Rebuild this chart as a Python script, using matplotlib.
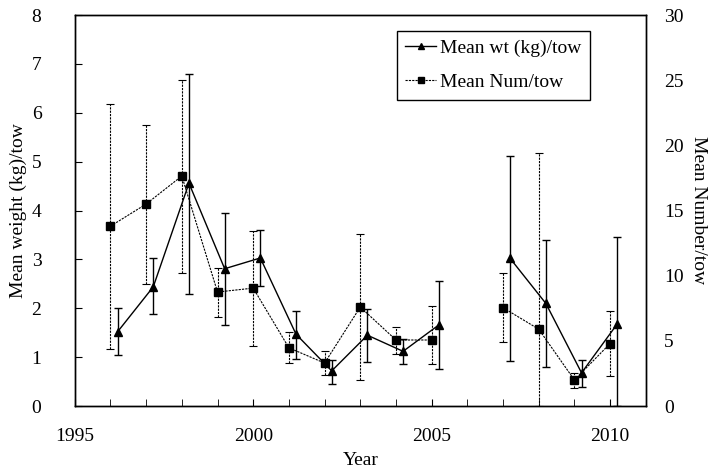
import numpy as np
import matplotlib
matplotlib.use('Agg')
import matplotlib.pyplot as plt
from matplotlib.ticker import MultipleLocator

plt.rcParams['font.family'] = ['Liberation Serif', 'DejaVu Serif']
plt.rcParams['font.size'] = 14

years = [1996, 1997, 1998, 1999, 2000, 2001, 2002, 2003, 2004, 2005, 2006,
         2007, 2008, 2009, 2010]

# mean weight (kg)/tow, left axis (NaN = no survey)
wt = [1.52, 2.44, 4.56, 2.81, 3.03, 1.47, 0.72, 1.45, 1.12, 1.66, np.nan,
      3.02, 2.10, 0.68, 1.68]
wt_hi = [2.00, 3.02, 6.80, 3.95, 3.61, 1.94, 0.95, 1.98, 1.38, 2.56, np.nan,
         5.12, 3.40, 0.94, 3.46]
wt_lo = [1.04, 1.88, 2.29, 1.66, 2.46, 0.96, 0.46, 0.90, 0.87, 0.76, np.nan,
         0.93, 0.80, 0.40, 0.00]

# mean number/tow, right axis
num = [13.8, 15.5, 17.65, 8.75, 9.05, 4.47, 3.3, 7.6, 5.07, 5.07, np.nan,
       7.55, 5.9, 2.0, 4.8]
num_hi = [23.2, 21.6, 25.0, 10.6, 13.4, 5.7, 4.2, 13.2, 6.1, 7.7, np.nan,
          10.2, 19.4, 2.5, 7.3]
num_lo = [4.4, 9.4, 10.2, 6.8, 4.6, 3.3, 2.35, 1.97, 4.0, 3.2, np.nan,
          4.9, 0.0, 1.4, 2.3]

yr = np.array(years, dtype=float)
wt = np.array(wt)
num = np.array(num)
wt_err = [wt - np.array(wt_lo), np.array(wt_hi) - wt]
num_err = [num - np.array(num_lo), np.array(num_hi) - num]

fig = plt.figure(figsize=(7.12, 4.70), dpi=100)
ax = fig.add_axes([0.105, 0.136, 0.802, 0.832])
ax2 = ax.twinx()

# weight: triangles, solid, shifted a little right
lw, = ax.plot(yr + 0.2, wt, color='black', lw=1.0, marker='^', ms=6,
              label='Mean wt (kg)/tow')
ax.errorbar(yr + 0.2, wt, yerr=wt_err, fmt='none', ecolor='black',
            elinewidth=1.0, capsize=3, capthick=1.0)

# number: squares, dotted
ln, = ax2.plot(yr, num, color='black', lw=0.8, ls=(0, (2, 1)), marker='s',
               ms=6, label='Mean Num/tow')
eb = ax2.errorbar(yr, num, yerr=num_err, fmt='none', ecolor='black',
                  elinewidth=0.8, capsize=3, capthick=0.8)
for c in eb[2]:
    c.set_linestyle((0, (2, 1)))

ax.set_xlim(1995, 2011)
ax.set_ylim(0, 8)
ax2.set_ylim(0, 30)
ax.xaxis.set_major_locator(MultipleLocator(5))
ax.xaxis.set_minor_locator(MultipleLocator(1))
ax.yaxis.set_major_locator(MultipleLocator(1))
ax2.yaxis.set_major_locator(MultipleLocator(5))

ax.tick_params(axis='x', which='both', direction='in', length=5, pad=16)
ax.tick_params(axis='y', direction='in', length=5, pad=24)
ax2.tick_params(axis='y', length=0, pad=13)

for a in (ax, ax2):
    for s in a.spines.values():
        s.set_linewidth(1.0)

ax.set_xlabel('Year', labelpad=5)
ax.set_ylabel('Mean weight (kg)/tow', labelpad=3)
ax2.set_ylabel('Mean Number/tow', rotation=270, labelpad=17)

leg = ax.legend([lw, ln], ['Mean wt (kg)/tow', 'Mean Num/tow'],
                loc='upper right', bbox_to_anchor=(0.92, 0.985),
                fancybox=False, edgecolor='black', framealpha=1,
                handlelength=1.6, handletextpad=0.2, borderpad=0.45,
                labelspacing=0.85, markerscale=0.7)
leg.get_frame().set_linewidth(1.0)

fig.savefig('out.png', dpi=100)
